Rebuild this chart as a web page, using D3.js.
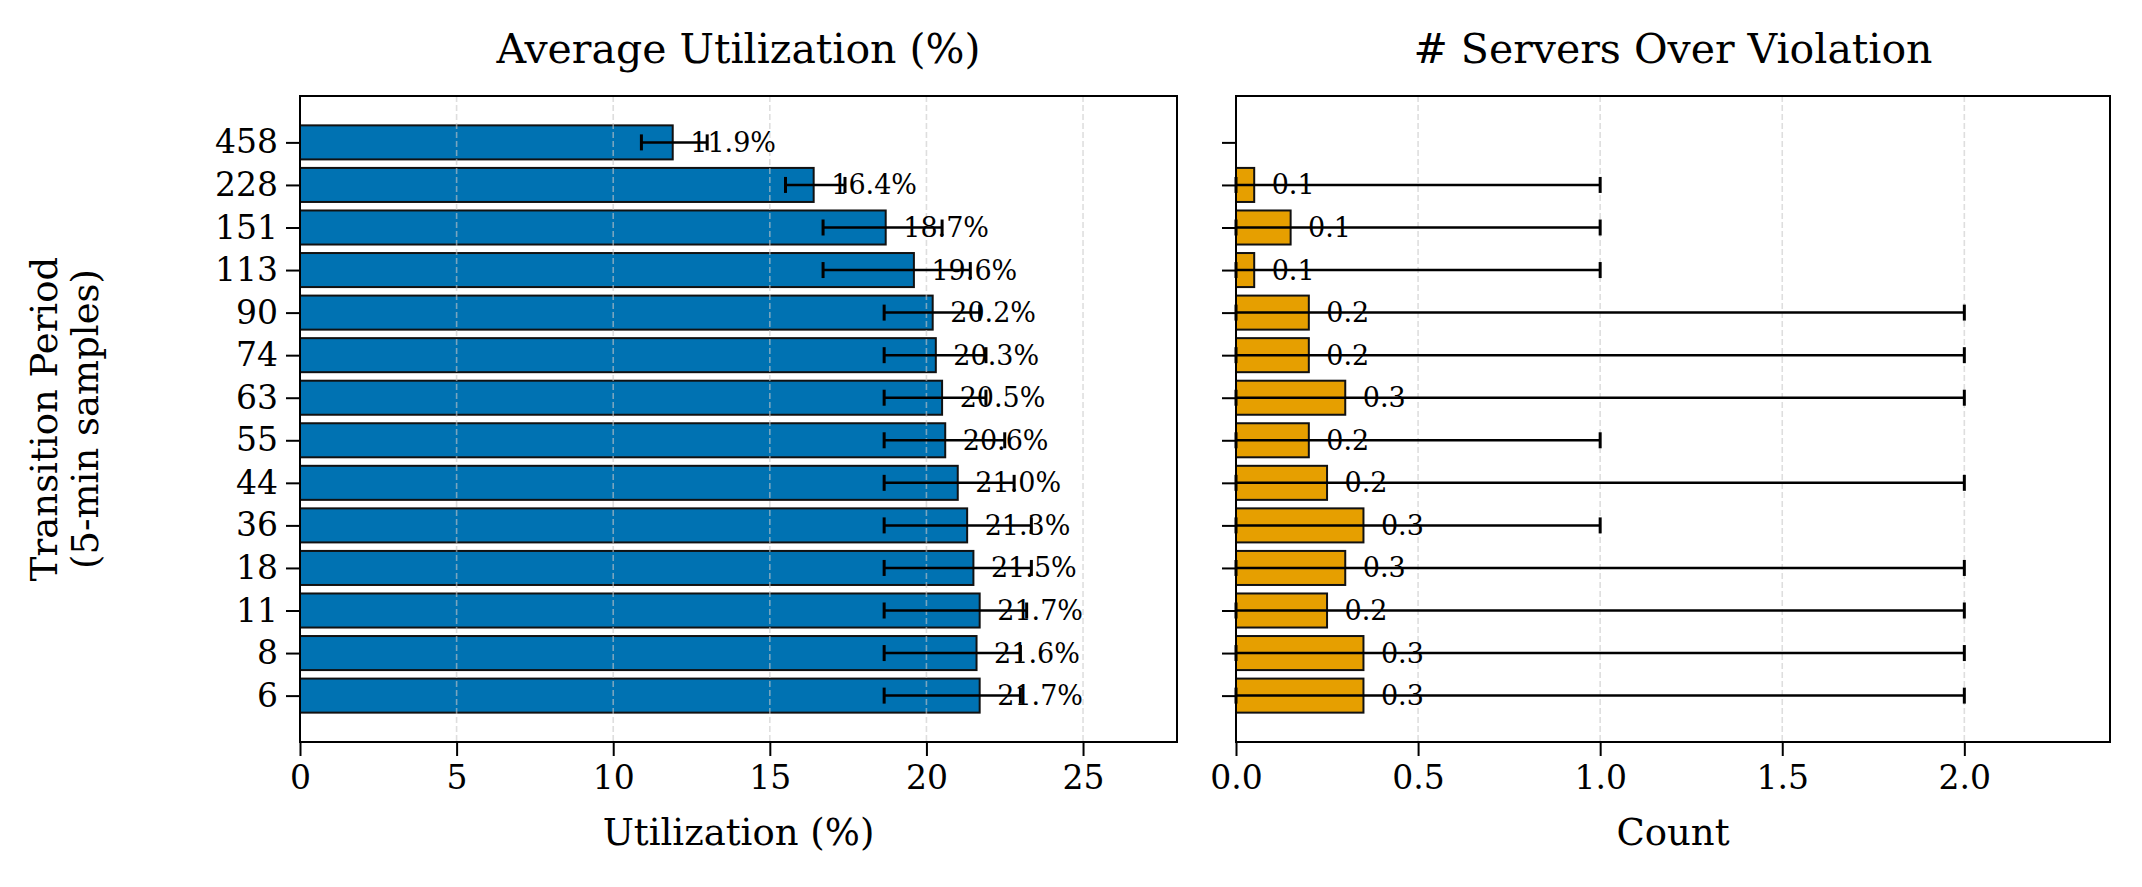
<!DOCTYPE html>
<html>
<head>
<meta charset="utf-8">
<script src="https://cdn.jsdelivr.net/npm/d3@7/dist/d3.min.js"></script>
<style>
  html, body { margin: 0; padding: 0; background: #ffffff; }
  svg { display: block; font-family: "DejaVu Serif", serif; }
</style>
</head>
<body>
<svg id="chart" width="2142" height="887"></svg>
<script>
// ---- data (top row first) ----
const periods   = ["458", "228", "151", "113", "90", "74", "63", "55", "44", "36", "18", "11", "8", "6"];
const utilMean  = [11.9, 16.4, 18.7, 19.6, 20.2, 20.3, 20.5, 20.6, 21.0, 21.3, 21.5, 21.7, 21.6, 21.7];
const utilLow   = [10.9, 15.5, 16.7, 16.7, 18.65, 18.65, 18.65, 18.65, 18.65, 18.65, 18.65, 18.65, 18.65, 18.65];
const utilHigh  = [13.0, 17.4, 20.5, 21.4, 21.7, 21.9, 21.9, 22.5, 22.8, 23.35, 23.35, 23.2, 23.0, 23.0];
const servMean  = [0, 0.05, 0.15, 0.05, 0.2, 0.2, 0.3, 0.2, 0.25, 0.35, 0.3, 0.25, 0.35, 0.35];
const servLow   = [0, 0, 0, 0, 0, 0, 0, 0, 0, 0, 0, 0, 0, 0];
const servHigh  = [0, 1, 1, 1, 2, 2, 2, 1, 2, 1, 2, 2, 2, 2];
const servLabels = ["", "0.1", "0.1", "0.1", "0.2", "0.2", "0.3", "0.2", "0.2", "0.3", "0.3", "0.2", "0.3", "0.3"];
const utilTicks = [0, 5, 10, 15, 20, 25];
const servTicks = [0, 0.5, 1.0, 1.5, 2.0];
const titles = ["Average Utilization (%)", "# Servers Over Violation"];
const xLabels = ["Utilization (%)", "Count"];
const yLabelLines = ["Transition Period", "(5-min samples)"];

const svg = d3.select("#chart");
svg.append("rect").attr("width", 2142).attr("height", 887).attr("fill", "#fff");

const yTop = 96, yBot = 742;
const n = periods.length;
// bar index i (top) -> position n-1-i ; matplotlib-like margins
const y = d3.scaleLinear().domain([-1.09, n - 1 + 1.09]).range([yBot, yTop]);
const pos = i => n - 1 - i;
const barH = y(0) - y(0.8);

const panels = [
  { x0: 300, x1: 1177, max: 28, mean: utilMean, low: utilLow, high: utilHigh, ticks: utilTicks,
    fmtTick: d3.format("d"), color: "#0072B2", labels: utilMean.map(v => v.toFixed(1) + "%"),
    title: titles[0], xlabel: xLabels[0], showY: true },
  { x0: 1236, x1: 2110, max: 2.4, mean: servMean, low: servLow, high: servHigh, ticks: servTicks,
    fmtTick: d3.format(".1f"), color: "#E69F00", labels: servLabels,
    title: titles[1], xlabel: xLabels[1], showY: false }
];

panels.forEach(p => {
  const x = d3.scaleLinear().domain([0, p.max]).range([p.x0, p.x1]);
  const g = svg.append("g");

  // bars
  g.selectAll("rect.bar").data(p.mean).join("rect")
    .attr("x", x(0))
    .attr("y", (d, i) => y(pos(i) + 0.4))
    .attr("width", d => x(d) - x(0))
    .attr("height", barH)
    .attr("fill", p.color)
    .attr("stroke", d => d > 0 ? "#111" : "none")
    .attr("stroke-width", 2);

  // grid (above bars, like matplotlib)
  g.selectAll("line.grid").data(p.ticks.filter(t => t > 0)).join("line")
    .attr("x1", d => x(d)).attr("x2", d => x(d))
    .attr("y1", yTop).attr("y2", yBot)
    .attr("stroke", "#c8c8c8").attr("stroke-opacity", 0.6)
    .attr("stroke-width", 1.6).attr("stroke-dasharray", "6,3");

  // error bars
  const eb = g.selectAll("g.eb").data(p.mean.map((d, i) => i).filter(i => p.high[i] > 0)).join("g");
  eb.append("line")
    .attr("x1", i => x(p.low[i])).attr("x2", i => x(p.high[i]))
    .attr("y1", i => y(pos(i))).attr("y2", i => y(pos(i)))
    .attr("stroke", "#000").attr("stroke-width", 2.5);
  [p.low, p.high].forEach(arr => {
    eb.append("line")
      .attr("x1", i => x(arr[i])).attr("x2", i => x(arr[i]))
      .attr("y1", i => y(pos(i)) - 8).attr("y2", i => y(pos(i)) + 8)
      .attr("stroke", "#000").attr("stroke-width", 3);
  });

  // value labels
  g.selectAll("text.val").data(p.mean).join("text")
    .attr("x", d => x(d + 0.02 * p.max))
    .attr("y", (d, i) => y(pos(i)))
    .attr("dominant-baseline", "central")
    .attr("font-size", 27)
    .attr("fill", "#000")
    .text((d, i) => p.labels[i]);

  // frame
  g.append("rect").attr("x", p.x0).attr("y", yTop)
    .attr("width", p.x1 - p.x0).attr("height", yBot - yTop)
    .attr("fill", "none").attr("stroke", "#000").attr("stroke-width", 2);

  // x axis
  const xAxis = d3.axisBottom(x).tickValues(p.ticks).tickFormat(p.fmtTick)
    .tickSize(14).tickPadding(10);
  const ax = g.append("g").attr("transform", `translate(0,${yBot})`).call(xAxis);
  ax.select(".domain").remove();
  ax.selectAll(".tick line").attr("stroke", "#000").attr("stroke-width", 2);
  ax.selectAll(".tick text").attr("font-size", 33).attr("font-family", "DejaVu Serif").attr("fill", "#000");

  // y axis
  const yAxis = d3.axisLeft(y).tickValues(periods.map((d, i) => pos(i)))
    .tickFormat(v => p.showY ? periods[n - 1 - v] : "").tickSize(14).tickPadding(8);
  const ay = g.append("g").attr("transform", `translate(${p.x0},0)`).call(yAxis);
  ay.select(".domain").remove();
  ay.selectAll(".tick line").attr("stroke", "#000").attr("stroke-width", 2);
  ay.selectAll(".tick text").attr("font-size", 33).attr("font-family", "DejaVu Serif").attr("fill", "#000");

  // title
  g.append("text").attr("x", (p.x0 + p.x1) / 2).attr("y", 63)
    .attr("text-anchor", "middle").attr("font-size", 41).attr("fill", "#000").text(p.title);

  // x label
  g.append("text").attr("x", (p.x0 + p.x1) / 2).attr("y", 845)
    .attr("text-anchor", "middle").attr("font-size", 37).attr("fill", "#000").text(p.xlabel);
});

// y label (two lines)
const cy = (yTop + yBot) / 2;
yLabelLines.forEach((t, k) => {
  svg.append("text")
    .attr("transform", `translate(${44 + k * 41},${cy}) rotate(-90)`)
    .attr("text-anchor", "middle").attr("dominant-baseline", "central")
    .attr("font-size", 37).attr("fill", "#000").text(t);
});
</script>
</body>
</html>
